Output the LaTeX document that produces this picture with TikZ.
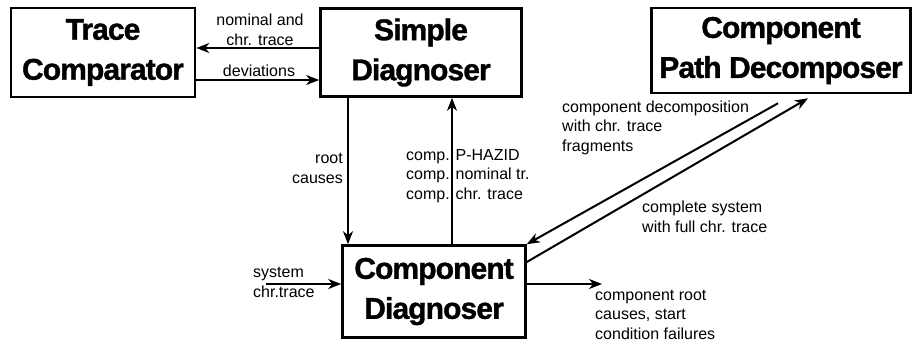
\documentclass[tikz,border=0pt]{standalone}
\usepackage{fontspec}
\setmainfont{Liberation Sans}
\newfontfamily\titlefont{Liberation Sans}[BoldFeatures={FakeBold=1.2,LetterSpace=-3}]
\usetikzlibrary{arrows.meta}
\begin{document}
\begin{tikzpicture}[x=1pt,y=-1pt,
  box/.style={draw, line width=2.6pt, inner sep=0pt, align=center,
    font=\titlefont\fontsize{30}{40}\selectfont\bfseries},
  arr/.style={line width=2pt, -{Stealth[length=13pt,width=10pt,inset=4pt]}},
  lbl/.style={inner sep=0pt, font=\fontsize{16}{19.5}\selectfont}]
\useasboundingbox[fill=white] (0,0) rectangle (917,343);

% boxes
\node[box, minimum width=184pt, minimum height=89pt] (TC) at (103,52.5) {Trace\\Comparator};
\node[box, minimum width=201pt, minimum height=88pt] (SD) at (421,52.5) {Simple\\Diagnoser};
\node[box, minimum width=259pt, minimum height=85pt] (CPD) at (781,50.5) {Component\\Path Decomposer};
\node[box, minimum width=183pt, minimum height=92pt] (CD) at (434,291.5) {Component\\Diagnoser};

% helper coordinates
\coordinate (rc) at ([xshift=-73pt]SD.south);
\coordinate (cp) at ([xshift=18pt]CD.north);
\coordinate (sys) at (266,284);
\coordinate (out) at (602,284);
\coordinate (dA) at ([xshift=-3pt,yshift=-9pt]CPD.south);
\coordinate (dB) at ([xshift=27pt,yshift=-4pt]CPD.south);

% connectors
\draw[arr] ([yshift=4.5pt]SD.west) -- ([yshift=4.5pt]TC.east);
\draw[arr] ([yshift=-27.5pt]TC.east) -- ([yshift=-27.5pt]SD.west);
\draw[arr] (rc) -- (rc |- CD.north);
\draw[arr] (cp) -- (cp |- SD.south);
\draw[arr] (sys) -- (sys -| CD.west);
\draw[arr] (out -| CD.east) -- (out);
\draw[arr] (dA) -- (CD.north east);
\draw[arr] ([yshift=29.5pt]CD.east) -- (dB);

% labels (anchor base = baseline of last line)
\node[lbl, anchor=base, align=center] (l1) at (260,45) {nominal and\\chr. trace};
\node[lbl, anchor=base] (l2) at (259,76) {deviations};
\node[lbl, anchor=base east, align=right] (l3) at (343,183) {root\\causes};
\node[lbl, anchor=base west, align=left] (l4) at (406,199) {comp. P-HAZID\\comp. nominal tr.\\comp. chr. trace};
\node[lbl, anchor=base west, align=left] (l5) at (253,297) {system\\chr.trace};
\node[lbl, anchor=base west, align=left] (l6) at (595,339) {component root\\causes, start\\condition failures};
\node[lbl, anchor=base west, align=left] (l7) at (562,151) {component decomposition\\with chr. trace\\fragments};
\node[lbl, anchor=base west, align=left] (l8) at (642,232) {complete system\\with full chr. trace};
\end{tikzpicture}
\end{document}
